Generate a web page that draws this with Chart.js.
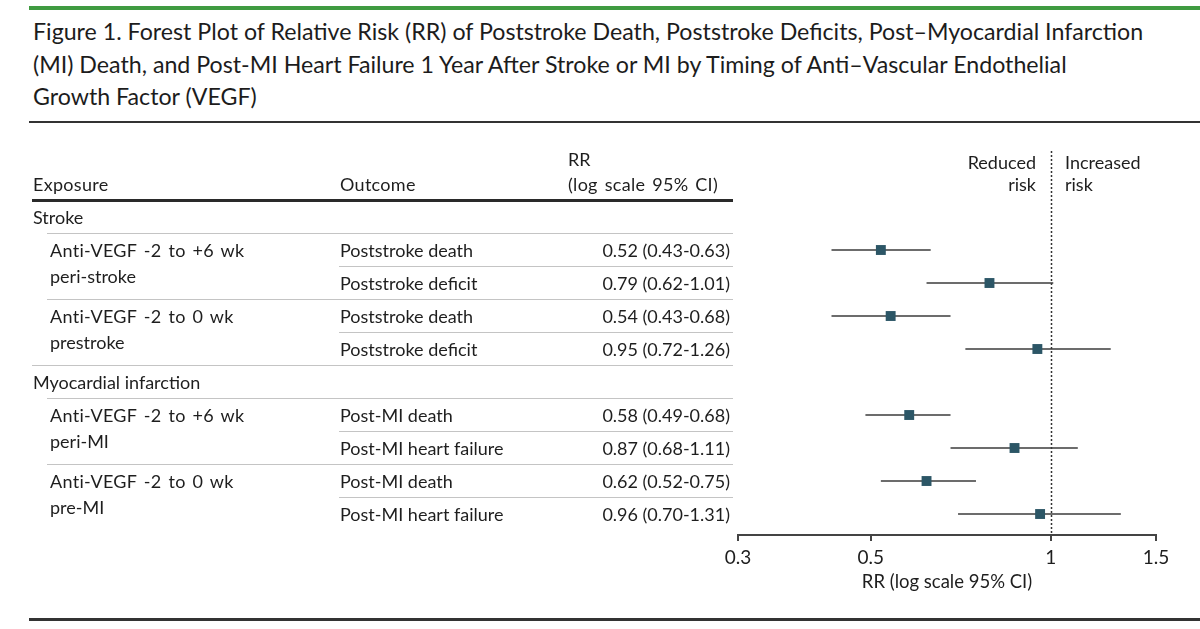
<!doctype html>
<html lang="en">
<head>
  <meta charset="utf-8">
  <title>Forest Plot of RR by Timing of Anti-VEGF</title>
  <style>
    html, body { margin: 0; padding: 0; background: #fff; }
    body {
      width: 1200px; height: 629px;
      position: relative; overflow: hidden;
      font-family: 'Lato', sans-serif;
      color: #1e1e1e;
    }
    canvas { position: absolute; left: 0; top: 0; }
    .rule { position: absolute; }
    .txt {
      position: absolute;
      white-space: nowrap;
      font-size: 18px;
      line-height: 22px;
      transform: translateY(-50%);
    }
    .wide { word-spacing: 2px; letter-spacing: 0.3px; }
    .right { text-align: right; }
    #title {
      position: absolute;
      left: 33px; top: 15px;
      font-size: 23.2px;
      line-height: 32.5px;
      white-space: nowrap;
      color: #1c1c1c;
    }
  </style>
</head>
<body>

  <div class="rule" style="left:29px; right:0; top:6px; height:4px; background:#3f9b41;"></div>
  <div id="title">
    Figure 1. Forest Plot of Relative Risk (RR) of Poststroke Death, Poststroke Deficits, Post–Myocardial Infarction<br>
    (MI) Death, and Post-MI Heart Failure 1 Year After Stroke or MI by Timing of Anti–Vascular Endothelial<br>
    Growth Factor (VEGF)
  </div>
  <div class="rule" style="left:29px; right:0; top:121px; height:2px; background:#333;"></div>
  <div class="rule" style="left:29px; right:0; top:618px; height:2.5px; background:#333;"></div>

  <canvas id="forest" width="1200" height="629"></canvas>
  <div id="table"></div>

  <script src="https://cdn.jsdelivr.net/npm/chart.js"></script>
  <script>
    const groups    = ['Stroke', 'Myocardial infarction'];
    const exposures = [
      ['Anti-VEGF -2 to +6 wk', 'peri-stroke'],
      ['Anti-VEGF -2 to 0 wk', 'prestroke'],
      ['Anti-VEGF -2 to +6 wk', 'peri-MI'],
      ['Anti-VEGF -2 to 0 wk', 'pre-MI']
    ];
    const outcomes = [
      'Poststroke death', 'Poststroke deficit',
      'Poststroke death', 'Poststroke deficit',
      'Post-MI death', 'Post-MI heart failure',
      'Post-MI death', 'Post-MI heart failure'
    ];
    const rr     = [0.52, 0.79, 0.54, 0.95, 0.58, 0.87, 0.62, 0.96];
    const ciLow  = [0.43, 0.62, 0.43, 0.72, 0.49, 0.68, 0.52, 0.70];
    const ciHigh = [0.63, 1.01, 0.68, 1.26, 0.68, 1.11, 0.75, 1.31];
    const xTicks = [0.3, 0.5, 1, 1.5];

    const INK = '#1e1e1e';
    const FONT = 'Lato';

    // each group: header row, then 4 estimate rows
    const rowOf = k => Math.floor(k / 4) * 5 + 1 + (k % 4);

    const ciSets = rr.map((v, k) => ({
      type: 'scatter',
      showLine: true,
      data: [{ x: ciLow[k], y: rowOf(k) }, { x: ciHigh[k], y: rowOf(k) }],
      borderColor: '#3b3b3b',
      borderWidth: 1.6,
      pointRadius: 0,
      order: 2
    }));

    const refLine = {
      id: 'refLine',
      beforeDatasetsDraw(chart) {
        const { ctx, chartArea, scales } = chart;
        const x = Math.round(scales.x.getPixelForValue(1)) + 0.5;
        ctx.save();
        ctx.strokeStyle = '#333';
        ctx.lineWidth = 1.5;
        ctx.setLineDash([2, 2]);
        ctx.beginPath();
        ctx.moveTo(x, chartArea.top);
        ctx.lineTo(x, chartArea.bottom);
        ctx.stroke();
        ctx.restore();
      }
    };

    const chart = new Chart(document.getElementById('forest'), {
      type: 'scatter',
      data: {
        datasets: [
          ...ciSets,
          {
            data: rr.map((v, k) => ({ x: v, y: rowOf(k) })),
            pointStyle: 'rect',
            pointRadius: 7,
            backgroundColor: '#2c5666',
            borderWidth: 0,
            order: 1
          }
        ]
      },
      options: {
        responsive: false,
        animation: false,
        layout: { padding: { left: 738, right: 44, top: 151, bottom: 34 } },
        plugins: { legend: { display: false }, tooltip: { enabled: false } },
        scales: {
          x: {
            type: 'logarithmic',
            min: 0.3,
            max: 1.5,
            afterBuildTicks: s => { s.ticks = xTicks.map(v => ({ value: v })); },
            afterFit: s => { s.height = 60; },
            ticks: {
              autoSkip: false,
              maxRotation: 0,
              padding: 5,
              color: INK,
              font: { family: FONT, size: 19 },
              callback: v => String(v)
            },
            grid: { drawOnChartArea: false, drawTicks: true, tickLength: 6, color: '#444', lineWidth: 2 },
            border: { display: true, color: '#444', width: 2 },
            title: {
              display: true,
              text: 'RR (log scale 95% CI)',
              color: INK,
              font: { family: FONT, size: 18.5 },
              padding: { top: 0, bottom: 2 }
            }
          },
          y: { type: 'linear', reverse: true, min: -2, max: 9.636, display: false }
        }
      },
      plugins: [refLine]
    });

    // table text and rules, aligned to the chart's row scale
    const table = document.getElementById('table');
    const Y = v => chart.scales.y.getPixelForValue(v);

    function text(str, x, y, cls) {
      const d = document.createElement('div');
      d.className = 'txt' + (cls ? ' ' + cls : '');
      d.textContent = str;
      d.style.top = y + 'px';
      if (cls && cls.indexOf('right') >= 0) d.style.right = (1200 - x) + 'px';
      else d.style.left = x + 'px';
      table.appendChild(d);
    }
    function rule(x1, x2, y, h, color) {
      const d = document.createElement('div');
      d.className = 'rule';
      d.style.left = x1 + 'px';
      d.style.width = (x2 - x1) + 'px';
      d.style.top = (y - h / 2) + 'px';
      d.style.height = h + 'px';
      d.style.background = color;
      table.appendChild(d);
    }

    const head = Y(-1);
    text('Exposure', 33, head, 'wide');
    text('Outcome', 340, head, 'wide');
    text('RR', 568, head - 25);
    text('(log scale 95% CI)', 568, head, 'wide');
    text('Reduced', 1036, head - 22, 'right');
    text('risk', 1036, head, 'right');
    text('Increased', 1065, head - 22);
    text('risk', 1065, head);
    rule(32, 733, Y(-0.5), 2.5, '#2a2a2a');

    const GREY = '#c4c4c4';
    groups.forEach((g, gi) => {
      const gRow = gi * 5;
      text(g, 33, Y(gRow));
      rule(47, 733, Y(gRow + 0.5), 1.8, GREY);
      if (gi < groups.length - 1) rule(32, 733, Y(gRow + 4.5), 1.8, GREY);
    });

    exposures.forEach((e, ei) => {
      const r = rowOf(ei * 2);
      text(e[0], 50, Y(r), 'wide');
      text(e[1], 50, Y(r) + 26);
      rule(339, 733, Y(r + 0.5), 1.8, GREY);
      if (ei % 2 === 0) rule(47, 733, Y(r + 1.5), 1.8, GREY);
    });

    rr.forEach((v, k) => {
      const r = rowOf(k);
      text(outcomes[k], 340, Y(r));
      text(v.toFixed(2) + ' (' + ciLow[k].toFixed(2) + '-' + ciHigh[k].toFixed(2) + ')', 730, Y(r), 'right');
    });
  </script>
</body>
</html>
